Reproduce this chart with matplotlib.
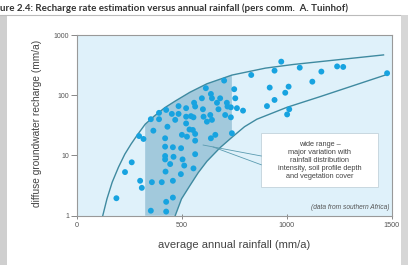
import matplotlib
matplotlib.use("Agg")
import matplotlib.pyplot as plt
from matplotlib.patches import Rectangle

# rainfall (mm/a) and recharge (mm/a) of the data points
rain = [190, 231, 263, 298, 319, 303, 311, 359, 406, 354, 427, 427, 459, 459,
        424, 497, 446, 422, 422, 462, 505, 513, 498, 422, 459, 422, 433, 366,
        354, 393, 393, 427, 454, 470, 486, 486, 522, 522, 502, 526, 538, 545,
        565, 560, 557, 554, 565, 565, 565, 557, 597, 602, 605, 621, 616, 640,
        645, 637, 645, 640, 661, 669, 676, 684, 703, 708, 716, 719, 735, 735,
        740, 751, 756, 764, 793, 522, 832, 907, 920, 943, 943, 975, 994, 1010,
        1003, 1013, 1063, 1123, 1166, 1241, 1270, 1479]
recharge = [1.95, 5.3, 7.7, 21, 18.8, 3.8, 2.9, 3.6, 3.6, 1.21, 1.17, 1.7, 2.0, 3.8,
            5.4, 4.9, 7.2, 8.6, 9.8, 9.5, 8.6, 6.8, 13.2, 14, 13.7, 19.3, 30, 25.8,
            40, 40, 51, 57, 49, 39, 66, 49, 44, 34, 22, 20.5, 27, 45,
            65, 75, 43, 26.5, 22.8, 17.6, 10.5, 6.1, 89, 58.5, 44, 36.4, 131, 105,
            89, 47, 39, 19.3, 22, 75, 58.5, 89, 175, 47, 75, 65, 43, 63,
            23.4, 126, 89, 61, 55.5, 61, 217, 66, 134, 83.5, 256, 361, 110, 139,
            48, 58.5, 287, 168, 247, 301, 295, 232]

# envelope curves
upper_x = [125, 145, 170, 200, 230, 260, 290, 327, 370, 420, 470, 540, 621, 740,
           900, 1032, 1250, 1462]
upper_y = [1, 1.9, 3.6, 6.4, 10.5, 15.5, 22, 33, 45, 62, 80, 112, 155, 216,
           282, 324, 390, 467]
lower_x = [470, 500, 541, 580, 621, 684, 740, 800, 859, 1002, 1161, 1320, 1475]
lower_y = [1, 1.9, 3.2, 5.2, 8.0, 13.5, 20, 30, 40, 63, 95, 145, 219]

# shaded "wide range" band limits
band_left, band_right = 327, 740

title = "ure 2.4: Recharge rate estimation versus annual rainfall (pers comm.  A. Tuinhof)"
note = "wide range \u2013\nmajor variation with\nrainfall distribution\nintensity, soil profile depth\nand vegetation cover"

plt.rcParams['font.family'] = ['Liberation Sans', 'DejaVu Sans']

fig = plt.figure(figsize=(4.08, 2.65), dpi=100)
fig.patch.set_facecolor('white')

# grey page edges
fig.patches.append(Rectangle((0, 0), 7 / 408, 250 / 265, transform=fig.transFigure,
                             facecolor='#cfcfcf', edgecolor='none', zorder=0))
fig.patches.append(Rectangle((401 / 408, 0), 7 / 408, 250 / 265, transform=fig.transFigure,
                             facecolor='#d6d6d6', edgecolor='none', zorder=0))
fig.add_artist(plt.Line2D([0, 400 / 408], [1 - 15 / 265, 1 - 15 / 265],
                          transform=fig.transFigure, color='#bbbbbb', lw=0.8))

fig.text(0.0, 1 - 8 / 265, title, fontsize=7.0, fontweight='bold', family='Lato',
         color='#333333', ha='left', va='center')

ax = fig.add_axes([76.5 / 408, 1 - 215.7 / 265, (391.5 - 76.5) / 408, 180.7 / 265])
ax.set_facecolor('#dff1fa')
ax.set_yscale('log')
ax.set_xlim(0, 1500)
ax.set_ylim(1, 1000)

# shaded band between the curves
band_x, band_y = [], []
for x, y in zip(upper_x, upper_y):
    if band_left <= x <= band_right:
        band_x.append(x)
        band_y.append(y)
for x, y in reversed(list(zip(lower_x, lower_y))):
    if x <= band_right:
        band_x.append(x)
        band_y.append(y)
band_x.append(band_left)
band_y.append(1)
ax.fill(band_x, band_y, color='#a2c9dc', zorder=1, lw=0)

ax.plot(upper_x, upper_y, color='#3f8aa0', lw=1.0, zorder=2)
ax.plot(lower_x, lower_y, color='#3f8aa0', lw=1.0, zorder=2)

ax.scatter(rain, recharge, s=18, color='#17a3e0', edgecolors='none', zorder=3,
           clip_on=False)

# annotation box
ax.add_patch(Rectangle((880, 3.0), 1438 - 880, 23.7 - 3.0, facecolor='white',
                       edgecolor='#c8d8e0', lw=0.7, zorder=4))
ax.text(1159, 8.4, note, fontsize=5.3, color='#444444', ha='center', va='center',
        linespacing=1.2, zorder=5)
ax.plot([603, 880], [14.9, 9.8], color='#5a9bb0', lw=0.6, zorder=4)
ax.plot([651, 880], [13.8, 7.0], color='#5a9bb0', lw=0.6, zorder=4)

ax.text(0.995, 0.048, "(data from southern Africa)", transform=ax.transAxes,
        fontsize=4.8, style='italic', color='#555555', ha='right', va='center')

ax.set_yticks([1, 10, 100, 1000])
ax.set_yticklabels(['1', '10', '100', '1000'])
ax.yaxis.set_minor_locator(matplotlib.ticker.NullLocator())
ax.set_xticks([0, 500, 1000, 1500])
ax.set_xticklabels(['0', '500', '1000', '1500'])
ax.tick_params(axis='y', direction='out', length=4.3, width=0.7, pad=1,
               labelsize=5, colors='#888888', labelcolor='#555555')
ax.tick_params(axis='x', direction='inout', length=3.6, width=0.7, pad=3,
               labelsize=5.2, colors='#888888', labelcolor='#555555')
for s in ax.spines.values():
    s.set_color('#999999')
    s.set_linewidth(0.8)

fig.text(37 / 408, 0.535, "diffuse groundwater recharge (mm/a)", rotation=90,
         fontsize=7.3, color='#444444', ha='center', va='center')
fig.text(234.5 / 408, 1 - 245 / 265, "average annual rainfall (mm/a)",
         fontsize=8.0, color='#444444', ha='center', va='center')

fig.savefig('out.png', dpi=100)
